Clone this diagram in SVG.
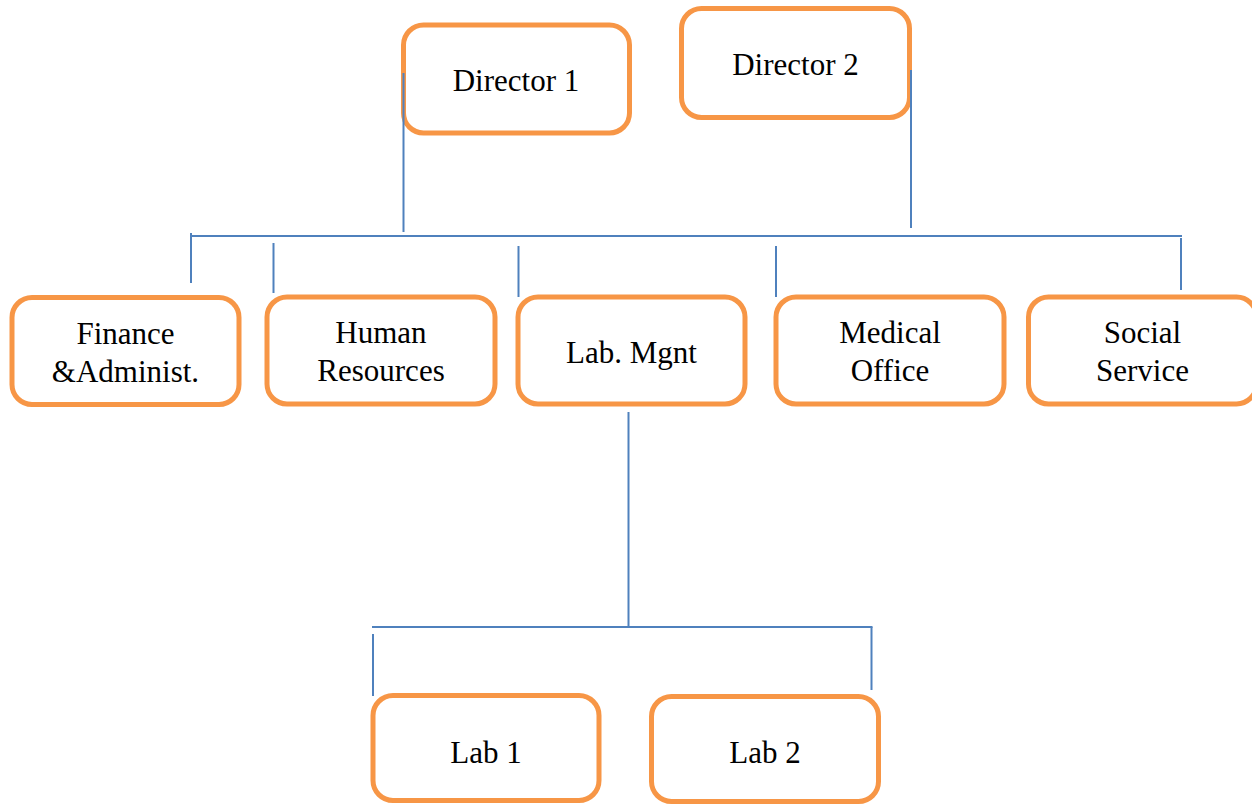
<svg xmlns="http://www.w3.org/2000/svg" width="1252" height="804" viewBox="0 0 1252 804">
  <style>
    .box { fill: #ffffff; stroke: #f79646; stroke-width: 5; }
    .label { font-family: "Liberation Serif", "Times New Roman", serif; font-size: 31px; fill: #000000; text-anchor: middle; }
    .link { stroke: #4f81bd; stroke-width: 2; fill: none; }
  </style>
  <rect width="1252" height="804" fill="#ffffff"/>

  <!-- Directors -->
  <g id="director-1">
    <rect class="box" x="403.5" y="25" width="226" height="108" rx="20"/>
    <text class="label" x="516" y="91">Director 1</text>
  </g>
  <g id="director-2">
    <rect class="box" x="681.5" y="8.5" width="228" height="109" rx="20"/>
    <text class="label" x="795.5" y="75">Director 2</text>
  </g>

  <!-- Departments -->
  <g id="finance">
    <rect class="box" x="12" y="297.5" width="227" height="107" rx="20"/>
    <text class="label" x="125.5" y="343.5">Finance</text>
    <text class="label" x="125.5" y="381.5">&amp;Administ.</text>
  </g>
  <g id="human-resources">
    <rect class="box" x="267" y="297" width="228" height="107" rx="20"/>
    <text class="label" x="381" y="343">Human</text>
    <text class="label" x="381" y="381">Resources</text>
  </g>
  <g id="lab-mgnt">
    <rect class="box" x="518" y="297" width="227" height="107" rx="20"/>
    <text class="label" x="631.5" y="363">Lab. Mgnt</text>
  </g>
  <g id="medical-office">
    <rect class="box" x="776" y="297" width="228" height="107" rx="20"/>
    <text class="label" x="890" y="343">Medical</text>
    <text class="label" x="890" y="381">Office</text>
  </g>
  <g id="social-service">
    <rect class="box" x="1028.5" y="297" width="228" height="107" rx="20"/>
    <text class="label" x="1142.5" y="343">Social</text>
    <text class="label" x="1142.5" y="381">Service</text>
  </g>

  <!-- Labs -->
  <g id="lab-1">
    <rect class="box" x="373" y="695.5" width="226" height="105" rx="20"/>
    <text class="label" x="486" y="763">Lab 1</text>
  </g>
  <g id="lab-2">
    <rect class="box" x="651.5" y="696.5" width="227" height="105" rx="20"/>
    <text class="label" x="765" y="763">Lab 2</text>
  </g>

  <!-- Connectors -->
  <g id="connectors">
    <line class="link" x1="403.5" y1="73" x2="403.5" y2="232"/>
    <line class="link" x1="911" y1="70" x2="911" y2="228"/>
    <line class="link" x1="190" y1="236" x2="1182" y2="236"/>
    <line class="link" x1="191" y1="233" x2="191" y2="283"/>
    <line class="link" x1="273.5" y1="243" x2="273.5" y2="293"/>
    <line class="link" x1="518.5" y1="246" x2="518.5" y2="297"/>
    <line class="link" x1="776" y1="246" x2="776" y2="297"/>
    <line class="link" x1="1181" y1="238" x2="1181" y2="290"/>
    <line class="link" x1="628.5" y1="412" x2="628.5" y2="627"/>
    <line class="link" x1="372" y1="627" x2="872.5" y2="627"/>
    <line class="link" x1="373" y1="634" x2="373" y2="696"/>
    <line class="link" x1="871.5" y1="627" x2="871.5" y2="690"/>
  </g>
</svg>
